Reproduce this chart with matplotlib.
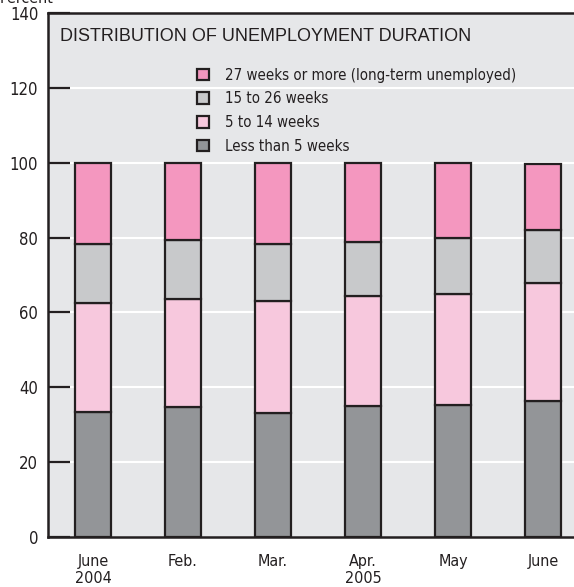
import numpy as np
import matplotlib.pyplot as plt

plt.rcParams['font.family'] = ['DejaVu Sans']
plt.rcParams['font.stretch'] = 'condensed'

# months and segment shares (percent)
months = ['June\n2004', 'Feb.', 'Mar.', 'Apr.\n2005', 'May', 'June']
lt5 = [33.3, 34.6, 33.0, 34.9, 35.4, 36.3]
w5_14 = [29.2, 28.9, 30.1, 29.5, 29.5, 31.5]
w15_26 = [15.8, 15.9, 15.2, 14.4, 15.0, 14.2]
w27 = [21.7, 20.6, 21.7, 21.2, 20.1, 17.6]

labels = ['Less than 5 weeks', '5 to 14 weeks', '15 to 26 weeks',
          '27 weeks or more (long-term unemployed)']
colors = ['#939598', '#f7c8dd', '#c8c9cb', '#f497bf']

fig = plt.figure(figsize=(5.74, 5.87), dpi=100)
ax = fig.add_axes([48/574, 50/587, 526/574, 524/587])
ax.set_facecolor('#e6e7e9')

x = np.arange(len(months))
bottom = np.zeros(len(months))
handles = []
for vals, c, lab in zip([lt5, w5_14, w15_26, w27], colors, labels):
    b = ax.bar(x, vals, 0.41, bottom=bottom, color=c, edgecolor='#231f20',
               linewidth=1.6, label=lab, zorder=3)
    handles.append(b)
    bottom += np.array(vals)

ax.set_ylim(0, 140)
ax.set_xlim(-0.5, 5.345)
ax.set_yticks(range(0, 141, 20))
ax.set_xticks(x)
ax.set_xticklabels(months, fontsize=11.5, color='#231f20')
ax.tick_params(axis='x', length=0, pad=12)
ax.tick_params(axis='y', direction='in', length=16, width=1.6, color='#231f20',
               labelsize=12, labelcolor='#231f20', pad=7)
for yv in range(20, 121, 20):
    ax.axhline(yv, color='white', linewidth=1.5, zorder=1)

for s in ['left', 'top', 'bottom']:
    ax.spines[s].set_linewidth(1.8)
    ax.spines[s].set_color('#231f20')
ax.spines['right'].set_visible(False)

ax.text(0.023, 0.972, 'DISTRIBUTION OF UNEMPLOYMENT DURATION', transform=ax.transAxes,
        fontsize=13, va='top', ha='left', color='#231f20',
        family=['Liberation Sans', 'DejaVu Sans'], stretch='normal')
fig.text(0.0, 1.003, 'Percent', fontsize=11.5, va='center', ha='left', color='#231f20')

leg = ax.legend(handles[::-1], labels[::-1], loc='upper left',
                bbox_to_anchor=(0.257, 0.921), frameon=False, fontsize=10.8,
                handlelength=0.8, handleheight=0.8, labelspacing=0.57,
                handletextpad=1.1, labelcolor='#231f20')

fig.savefig('out.png', dpi=100)
